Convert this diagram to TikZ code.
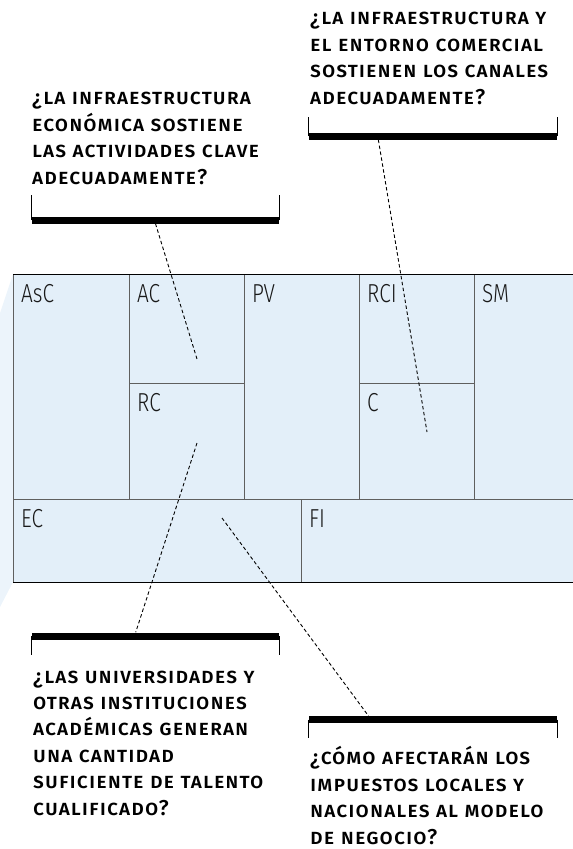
\documentclass[tikz,border=0pt]{standalone}
\usepackage{fontspec}
\setmainfont{Fira Sans}
\newfontfamily\qfont{Fira Sans Medium}[Letters=SmallCaps, LetterSpace=5]
\newfontfamily\cellfont{Fira Sans Light}[FakeStretch=0.8]
\usepackage{xcolor}
\definecolor{canvas}{RGB}{227,239,249}
\definecolor{canvasshade}{RGB}{236,244,251}
\definecolor{divider}{RGB}{95,95,95}
\usepackage{tikz}
\usetikzlibrary{
    positioning,
    calc
}

\begin{document}
\begin{tikzpicture}[
        x=1pt, y=-1pt,
        cell/.style={rectangle, draw=divider, line width=0.8pt, fill=canvas, anchor=north west, inner sep=0},
        lbl/.style={anchor=north west, inner sep=0, xshift=8pt, yshift=-10.5pt, text=black!90, font=\cellfont\fontsize{26}{26}\selectfont},
        question/.style={anchor=base west, align=left, inner sep=0, font=\qfont\fontsize{21.5}{26.4}\selectfont},
        bar/.style={rectangle, fill=black, inner sep=0, minimum width=247pt, minimum height=7pt},
        tick/.style={line width=1pt},
        leader/.style={dash pattern=on 3.5pt off 2.5pt, line width=0.9pt}
    ]
        \useasboundingbox (0,0) rectangle (573,849);
        \fill[canvasshade] (0,313) -- (13,274) -- (13,582) -- (0,607) -- cycle;

        % canvas cells
        \node[cell, minimum width=116pt, minimum height=225pt, label={[lbl]north west:AsC}] (asc) at (13,274) {};
        \node[cell, minimum width=115pt, minimum height=109pt, label={[lbl]north west:AC}] (ac) at (129,274) {};
        \node[cell, minimum width=115pt, minimum height=116pt, label={[lbl]north west:RC}] (rc) at (129,383) {};
        \node[cell, minimum width=115pt, minimum height=225pt, label={[lbl]north west:PV}] (pv) at (244,274) {};
        \node[cell, minimum width=115pt, minimum height=109pt, label={[lbl]north west:RCI}] (rci) at (359,274) {};
        \node[cell, minimum width=115pt, minimum height=116pt, label={[lbl]north west:C}] (c) at (359,383) {};
        \node[cell, minimum width=102pt, minimum height=225pt, label={[lbl]north west:SM}] (sm) at (474,274) {};
        \node[cell, minimum width=288pt, minimum height=83pt, label={[lbl]north west:EC}] (ec) at (13,499) {};
        \node[cell, minimum width=275pt, minimum height=83pt, label={[lbl]north west:FI}] (fi) at (301,499) {};
        \draw[line width=0.9pt] (asc.north west) -- (sm.north east);
        \draw[line width=0.9pt] (ec.south west) -- (fi.south east);

        % questions (anchored at the last line)
        \node[question] (q1) at (32,184) {¿la infraestructura\\económica sostiene\\las actividades clave\\adecuadamente?};
        \node[question] (q2) at (310,104) {¿la infraestructura y\\el entorno comercial\\sostienen los canales\\adecuadamente?};
        \node[question] (q3) at (33,815) {¿las universidades y\\otras instituciones\\académicas generan\\una cantidad\\suficiente de talento\\cualificado?};
        \node[question] (q4) at (310,844) {¿cómo afectarán los\\impuestos locales y\\nacionales al modelo\\de negocio?};

        \node[bar] (b1) at (155.5,220) {};
        \node[bar, minimum width=248pt] (b2) at (433,136) {};
        \node[bar] (b3) at (155.5,636) {};
        \node[bar, minimum width=248pt] (b4) at (433,719.5) {};
        \draw[tick] (b1.west) -- ++(0,-25);
        \draw[tick] (b1.east) -- ++(0,-25);
        \draw[tick] (b2.west) -- ++(0,-19);
        \draw[tick] (b2.east) -- ++(0,-19);
        \draw[tick] (b3.west) -- ++(0,19);
        \draw[tick] (b3.east) -- ++(0,19);
        \draw[tick] (b4.west) -- ++(0,18.5);
        \draw[tick] (b4.east) -- ++(0,18.5);

        \coordinate (acpt) at (197,359);
        \coordinate (cpt) at (427,432);
        \coordinate (rcpt) at (197,443);
        \coordinate (ecpt) at (222,518);
        \draw[leader] (b1.south) -- (acpt);
        \draw[leader] ($(b2.south west)!0.28!(b2.south east)$) -- (cpt);
        \draw[leader] (rcpt) -- ($(b3.north west)!0.42!(b3.north east)$);
        \draw[leader] (ecpt) -- ($(b4.north west)!0.24!(b4.north east)$);
    \end{tikzpicture}
\end{document}
